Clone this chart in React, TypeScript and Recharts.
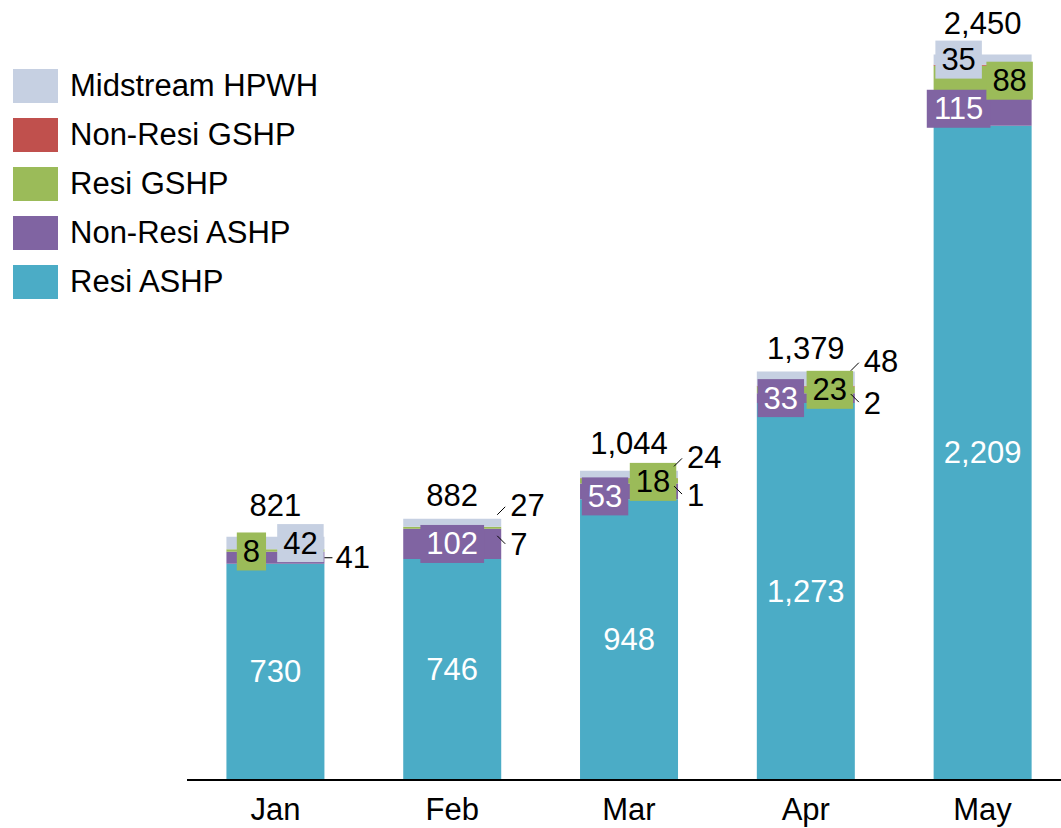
import React from "react";
import { BarChart, Bar, XAxis, YAxis, LabelList } from "recharts";

const months = ["Jan", "Feb", "Mar", "Apr", "May"];
const resiAshp = [730, 746, 948, 1273, 2209];
const nonResiAshp = [41, 102, 53, 33, 115];
const resiGshp = [8, 7, 18, 23, 88];
const nonResiGshp = [0, 0, 1, 2, 3];
const midstreamHpwh = [42, 27, 24, 48, 35];

const FONT = "'Liberation Sans', Arial, sans-serif";
const FS = 31;

const series = [
  { key: "resiAshp", name: "Resi ASHP", color: "#4BACC6", ink: "#fff" },
  { key: "nonResiAshp", name: "Non-Resi ASHP", color: "#8064A2", ink: "#fff" },
  { key: "resiGshp", name: "Resi GSHP", color: "#9BBB59", ink: "#000" },
  { key: "nonResiGshp", name: "Non-Resi GSHP", color: "#C0504D", ink: "#000" },
  { key: "midstreamHpwh", name: "Midstream HPWH", color: "#C6D0E2", ink: "#000" },
];

const data = months.map((m, i) => ({
  month: m,
  resiAshp: resiAshp[i],
  nonResiAshp: nonResiAshp[i],
  resiGshp: resiGshp[i],
  nonResiGshp: nonResiGshp[i],
  midstreamHpwh: midstreamHpwh[i],
}));
const totals = data.map(
  (d) => d.resiAshp + d.nonResiAshp + d.resiGshp + d.nonResiGshp + d.midstreamHpwh
);

// label placement (Excel-style arranged labels)
type Place =
  | { kind: "in" }
  | { kind: "box"; dx: number; dy: number }
  | { kind: "up" }
  | { kind: "down" }
  | { kind: "side" }
  | null;
const IN: Place = { kind: "in" };
const UP: Place = { kind: "up" };
const DOWN: Place = { kind: "down" };
const box = (dx: number, dy: number): Place => ({ kind: "box", dx, dy });

const placement: Record<string, Place[]> = {
  resiAshp: [IN, IN, IN, IN, IN],
  nonResiAshp: [{ kind: "side" }, box(0, 0), box(-24, 5), box(-25, 0), box(-24, 0)],
  resiGshp: [box(-24, 1), DOWN, box(24, 1), box(24, 0), box(27, 2)],
  nonResiGshp: [null, null, DOWN, DOWN, null],
  midstreamHpwh: [box(25, 0), UP, UP, UP, box(-24, 0)],
};
const totalLift = [31, 23, 27, 23, 31];

const MARGIN_LEFT = 187;
const BAND = (1072 - MARGIN_LEFT - 1) / months.length;

const fmt = (v: number) => v.toLocaleString("en-US");

function monthIndex(props: any) {
  const m = props?.payload?.month;
  if (m && months.indexOf(m) >= 0) return months.indexOf(m);
  const cx = Number(props.x) + Number(props.width) / 2;
  return Math.round((cx - MARGIN_LEFT - BAND / 2) / BAND);
}

function SegLabel(props: any, s: (typeof series)[number]) {
  const { x, y, width, height } = props;
  const index = monthIndex(props);
  const place = placement[s.key][index];
  if (!place) return null;
  const v = Number(data[index][s.key as keyof (typeof data)[number]]);
  const txt = fmt(v);
  const cx = Number(x) + Number(width) / 2;
  const cy = Number(y) + Number(height) / 2;
  const right = Number(x) + Number(width);
  const tstyle = { fontFamily: FONT, fontSize: FS };
  if (place.kind === "in") {
    return (
      <text x={cx} y={cy} textAnchor="middle" dominantBaseline="central" fill={s.ink} style={tstyle}>
        {txt}
      </text>
    );
  }
  if (place.kind === "box") {
    const w = txt.length * 0.556 * FS + 12;
    const h = 38;
    const bx = cx + place.dx;
    const by = cy + place.dy;
    return (
      <g>
        <rect x={bx - w / 2} y={by - h / 2} width={w} height={h} fill={s.color} />
        <text x={bx} y={by} textAnchor="middle" dominantBaseline="central" fill={s.ink} style={tstyle}>
          {txt}
        </text>
      </g>
    );
  }
  if (place.kind === "side") {
    return (
      <g>
        <line x1={right} y1={cy} x2={right + 8} y2={cy} stroke="#000" strokeWidth={1} />
        <text x={right + 11} y={cy} dominantBaseline="central" fill="#000" style={tstyle}>
          {txt}
        </text>
      </g>
    );
  }
  const sign = place.kind === "up" ? -1 : 1;
  return (
    <g>
      <line
        x1={right - 4}
        y1={cy + sign * 8}
        x2={right + 4}
        y2={cy + sign * 16}
        stroke="#000"
        strokeWidth={1}
      />
      <text x={right + 9} y={cy + sign * 17} dominantBaseline="central" fill="#000" style={tstyle}>
        {txt}
      </text>
    </g>
  );
}

function TotalLabel(props: any) {
  const { x, y, width } = props;
  const index = monthIndex(props);
  const cx = Number(x) + Number(width) / 2;
  return (
    <text
      x={cx}
      y={Number(y) - totalLift[index]}
      textAnchor="middle"
      dominantBaseline="central"
      fill="#000"
      style={{ fontFamily: FONT, fontSize: FS }}
    >
      {fmt(totals[index])}
    </text>
  );
}

function LegendBox() {
  const items = [...series].reverse();
  return (
    <div
      style={{
        position: "absolute",
        left: 13,
        top: 61,
        fontFamily: FONT,
        fontSize: FS,
        color: "#000",
      }}
    >
      {items.map((s) => (
        <div key={s.key} style={{ display: "flex", alignItems: "center", height: 49 }}>
          <div style={{ width: 45, height: 34, background: s.color, marginRight: 12 }} />
          <span style={{ lineHeight: "34px", whiteSpace: "nowrap" }}>{s.name}</span>
        </div>
      ))}
    </div>
  );
}

export default function App() {
  return (
    <div
      style={{
        position: "absolute",
        left: 0,
        top: 0,
        width: 1061,
        height: 828,
        overflow: "hidden",
        background: "#fff",
      }}
    >
      <BarChart
        width={1072}
        height={828}
        data={data}
        margin={{ top: 10, right: 1, left: MARGIN_LEFT, bottom: 8 }}
        barCategoryGap="22.3%"
      >
        <XAxis
          dataKey="month"
          height={40}
          tickLine={false}
          axisLine={{ stroke: "#000", strokeWidth: 2 }}
          tick={{ fill: "#000", fontSize: FS, fontFamily: FONT }}
          tickMargin={12}
        />
        <YAxis hide domain={[0, 2600]} />
        {series.map((s) => (
          <Bar
            key={s.key}
            dataKey={s.key}
            name={s.name}
            stackId="a"
            fill={s.color}
            isAnimationActive={false}
          >
            <LabelList dataKey={s.key} content={(p: any) => SegLabel(p, s)} />
            {s.key === "midstreamHpwh" ? <LabelList dataKey={s.key} content={TotalLabel} /> : null}
          </Bar>
        ))}
      </BarChart>
      <LegendBox />
    </div>
  );
}
